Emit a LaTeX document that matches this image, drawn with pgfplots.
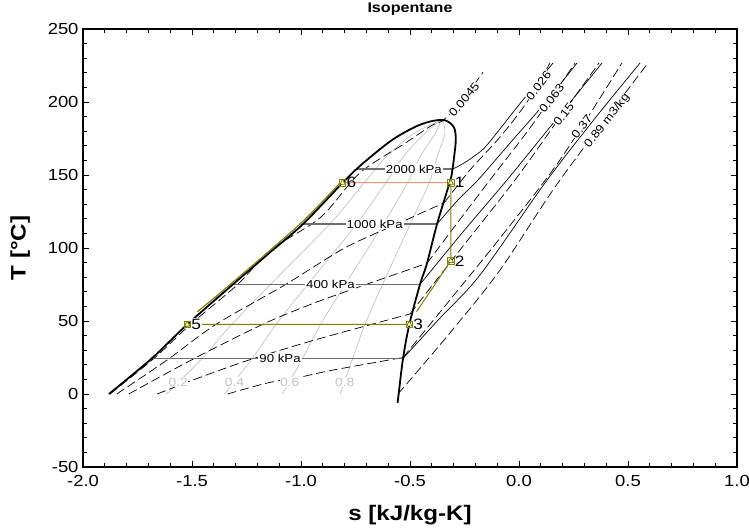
\documentclass[border=0pt]{standalone}
\usepackage{fontspec}
\setmainfont{Liberation Sans}[FakeStretch=1.15]
\usepackage{pgfplots}
\pgfplotsset{compat=1.18}
\definecolor{olv}{RGB}{128,128,0}
\definecolor{salm}{RGB}{250,140,110}
\definecolor{qgray}{RGB}{195,195,195}
\definecolor{pgray}{RGB}{110,110,110}
\begin{document}
\begin{tikzpicture}
\begin{axis}[
  scale only axis, width=654bp, height=438bp,
  xmin=-2, xmax=1, ymin=-50, ymax=250,
  xtick={-2,-1.5,-1,-0.5,0,0.5,1}, xticklabels={-2.0,-1.5,-1.0,-0.5,0.0,0.5,1.0},
  ytick={-50,0,50,100,150,200,250}, yticklabels={-50,0,50,100,150,200,250},
  minor x tick num=4, minor y tick num=4,
  tick align=inside, major tick length=6bp, minor tick length=4bp,
  tick style={black, line width=0.8pt},
  axis line style={line width=1.6pt},
  ticklabel style={font=\fontsize{16bp}{18bp}\selectfont},
  xticklabel style={yshift=-5bp},
  yticklabel style={xshift=-1bp},
  xlabel={s [kJ/kg-K]}, ylabel={T [°C]},
  label style={font=\bfseries\fontsize{21bp}{24bp}\selectfont},
  xlabel style={at={(axis description cs:0.5,-0.1096)}, anchor=center},
  ylabel style={at={(axis description cs:-0.0960,0.5)}, anchor=center},
  title={Isopentane},
  title style={at={(axis description cs:0.5,1.032)}, anchor=center, font=\bfseries\fontsize{14bp}{16bp}\selectfont},
  every axis plot/.append style={line join=round},
]
% quality lines
\addplot[qgray, line width=0.7pt, smooth, tension=0.5] coordinates {(-1.616,0) (-1.454,24.3) (-1.319,47.5) (-1.140,75.1) (-0.868,116.4) (-0.710,144.7) (-0.606,163) (-0.481,178.6) (-0.36,187.2)};
\addplot[qgray, line width=0.7pt, smooth, tension=0.5] coordinates {(-1.351,0) (-1.224,24.3) (-1.115,47.5) (-0.969,75.1) (-0.745,116.4) (-0.611,144.7) (-0.528,163) (-0.432,178.6) (-0.36,187.2)};
\addplot[qgray, line width=0.7pt, smooth, tension=0.5] coordinates {(-1.085,0) (-0.993,24.3) (-0.911,47.5) (-0.797,75.1) (-0.622,116.4) (-0.511,144.7) (-0.451,163) (-0.384,178.6) (-0.36,187.2)};
\addplot[qgray, line width=0.7pt, smooth, tension=0.5] coordinates {(-0.820,0) (-0.763,24.3) (-0.707,47.5) (-0.626,75.1) (-0.499,116.4) (-0.412,144.7) (-0.374,163) (-0.340,178.6) (-0.35,187.2)};
% isochores (dashed)
\addplot[black, line width=0.7pt, dash pattern=on 9bp off 4bp, smooth, tension=0.5] coordinates {(-1.876,0) (-1.675,24.3) (-1.507,47.7) (-1.29,75.1) (-1.14,98.6) (-0.91,121) (-0.73,151.4) (-0.52,172) (-0.40,184) (-0.345,187.8) (-0.25,203) (-0.165,220.5)};
\addplot[black, line width=0.7pt, dash pattern=on 9bp off 4bp, smooth, tension=0.5] coordinates {(-1.845,0) (-1.614,23.3) (-1.39,47.7) (-1.071,75) (-0.80,100) (-0.56,116.4) (-0.343,131)};
\addplot[black, line width=0.7pt, dash pattern=on 9bp off 4bp, smooth, tension=0.5] coordinates {(-0.343,131) (-0.225,153.4) (-0.087,176.0) (0.037,200.0) (0.142,226.7)};
\addplot[black, line width=0.7pt, dash pattern=on 9bp off 4bp, smooth, tension=0.5] coordinates {(-1.79,0) (-1.503,23.3) (-1.176,47.7) (-0.945,62) (-0.70,75.1) (-0.422,89.5)};
\addplot[black, line width=0.7pt, dash pattern=on 9bp off 4bp, smooth, tension=0.5] coordinates {(-0.422,89.5) (-0.280,117.8) (-0.133,146.6) (0.060,184.2) (0.257,226.7)};
\addplot[black, line width=0.7pt, dash pattern=on 9bp off 4bp, smooth, tension=0.5] coordinates {(-1.66,0) (-1.47,11) (-1.238,23.3) (-0.96,36) (-0.676,47.7) (-0.5,54.8)};
\addplot[black, line width=0.7pt, dash pattern=on 9bp off 4bp, smooth, tension=0.5] coordinates {(-0.5,54.8) (-0.271,98.6) (-0.018,146.6) (0.179,187.7) (0.367,226.7)};
\addplot[black, line width=0.7pt, dash pattern=on 9bp off 4bp, smooth, tension=0.5] coordinates {(-1.337,0) (-1.156,7.5) (-1.00,11.7) (-0.853,16.4) (-0.532,25)};
\addplot[black, line width=0.7pt, dash pattern=on 9bp off 4bp, smooth, tension=0.5] coordinates {(-0.532,25) (-0.317,64.4) (-0.087,106.8) (0.188,160.3) (0.472,226.7)};
\addplot[black, line width=0.7pt, dash pattern=on 9bp off 4bp, smooth, tension=0.5] coordinates {(-0.555,0) (-0.317,41.8) (-0.087,84.9) (0.188,146.6) (0.592,226.7)};
% isobars superheated
\addplot[black, line width=0.7pt, smooth, tension=0.6] coordinates {(-0.304,154.1) (-0.260,157.5) (-0.200,163.5) (-0.150,170) (-0.055,187.7) (0.018,201.4) (0.156,226.7)};
\addplot[black, line width=0.7pt, smooth, tension=0.5] coordinates {(-0.376,116.4) (-0.280,132.9) (-0.188,146.6) (-0.041,171.9) (0.119,199.3) (0.266,226.7)};
\addplot[black, line width=0.7pt, smooth, tension=0.5] coordinates {(-0.454,75.1) (-0.261,110.3) (-0.055,146.6) (0.165,187) (0.381,226.7)};
\addplot[black, line width=0.7pt, smooth, tension=0.5] coordinates {(-0.532,24.4) (-0.362,52.1) (-0.179,81.5) (0.119,144.5) (0.335,186.3) (0.555,226.7)};
% isobars in the dome
\addplot[pgray, line width=1.3pt] coordinates {(-0.745,154.1) (-0.304,154.1)};
\addplot[pgray, line width=1.3pt] coordinates {(-0.991,116.4) (-0.376,116.4)};
\addplot[pgray, line width=1.3pt] coordinates {(-1.312,75.1) (-0.454,75.1)};
\addplot[pgray, line width=1.3pt] coordinates {(-1.685,24.4) (-0.532,24.4)};
% labels
\begin{scope}[every node/.style={fill=white, inner sep=1bp, font=\fontsize{11.5bp}{13bp}\selectfont}]
\node at (axis cs:-0.482,154.1) {2000 kPa};
\node at (axis cs:-0.662,116.4) {1000 kPa};
\node at (axis cs:-0.865,75.1) {400 kPa};
\node at (axis cs:-1.096,24.4) {90 kPa};
\end{scope}
\begin{scope}[every node/.style={fill=white, inner sep=0.3bp, font=\fontsize{11.5bp}{13bp}\selectfont}]
\node[rotate=50] at (axis cs:-0.252,201.6) {0.0045};
\node[rotate=52] at (axis cs:0.090,211.2) {0.026};
\node[rotate=52] at (axis cs:0.150,202.5) {0.063};
\node[rotate=52] at (axis cs:0.205,191.6) {0.15};
\node[rotate=52] at (axis cs:0.288,183.1) {0.37};
\node[rotate=52] at (axis cs:0.405,187.0) {0.89 m3/kg};
\end{scope}
\begin{scope}[every node/.style={fill=white, inner sep=0.5bp, text=qgray, font=\fontsize{12bp}{14bp}\selectfont}]
\node at (axis cs:-1.563,8.2) {0.2};
\node at (axis cs:-1.305,8.2) {0.4};
\node at (axis cs:-1.052,8.2) {0.6};
\node at (axis cs:-0.800,8.2) {0.8};
\end{scope}
% saturation dome
\addplot[black, line width=1.8pt, smooth, tension=0.55] coordinates {(-1.881,0) (-1.685,24.3) (-1.523,47.5) (-1.312,75.1) (-1.150,96) (-0.991,116.4) (-0.809,144.7) (-0.745,154.1) (-0.680,162.5) (-0.577,174.5) (-0.469,183.5) (-0.39,187.2) (-0.335,187.2) (-0.298,182.5) (-0.290,174) (-0.298,162) (-0.306,153) (-0.317,145.4) (-0.376,116.4) (-0.422,89.5) (-0.454,75.1) (-0.503,47.7) (-0.532,24.3) (-0.552,0) (-0.557,-6)};
% cycle
\addplot[salm, line width=1pt] coordinates {(-0.809,144.7) (-0.313,144.7)};
\addplot[olv, line width=1pt] coordinates {(-0.313,144.7) (-0.313,91.1) (-0.470,56.4)};
\addplot[olv, line width=1pt] coordinates {(-0.503,47.7) (-1.522,47.6)};
\addplot[olv, line width=1.2pt, smooth, tension=0.5] coordinates {(-1.475,56.4) (-1.324,75.1) (-1.005,116.4) (-0.82,144.7)};
\addplot[only marks, mark=square, mark size=3.2bp, mark options={draw=olv, line width=0.8pt}] coordinates {(-0.313,144.7) (-0.313,91.1) (-0.503,47.7) (-1.522,47.6) (-0.809,144.7)};
\addplot[only marks, mark=triangle*, mark size=3.2bp, mark options={draw=olv, fill=yellow!15, line width=0.8pt}] coordinates {(-0.313,144.7) (-0.313,91.1) (-0.503,47.7) (-1.522,47.6) (-0.809,144.7)};
\begin{scope}[every node/.style={anchor=west, inner sep=1bp, font=\fontsize{15bp}{17bp}\selectfont}]
\node at (axis cs:-0.300,144.7) {1};
\node at (axis cs:-0.300,91.1) {2};
\node at (axis cs:-0.490,47.7) {3};
\node[fill=white] at (axis cs:-1.508,47.6) {5};
\node at (axis cs:-0.796,144.7) {6};
\end{scope}
\end{axis}
\pgfresetboundingbox
\path (-83bp,-63bp) rectangle (666bp,467bp);
\end{tikzpicture}
\end{document}
